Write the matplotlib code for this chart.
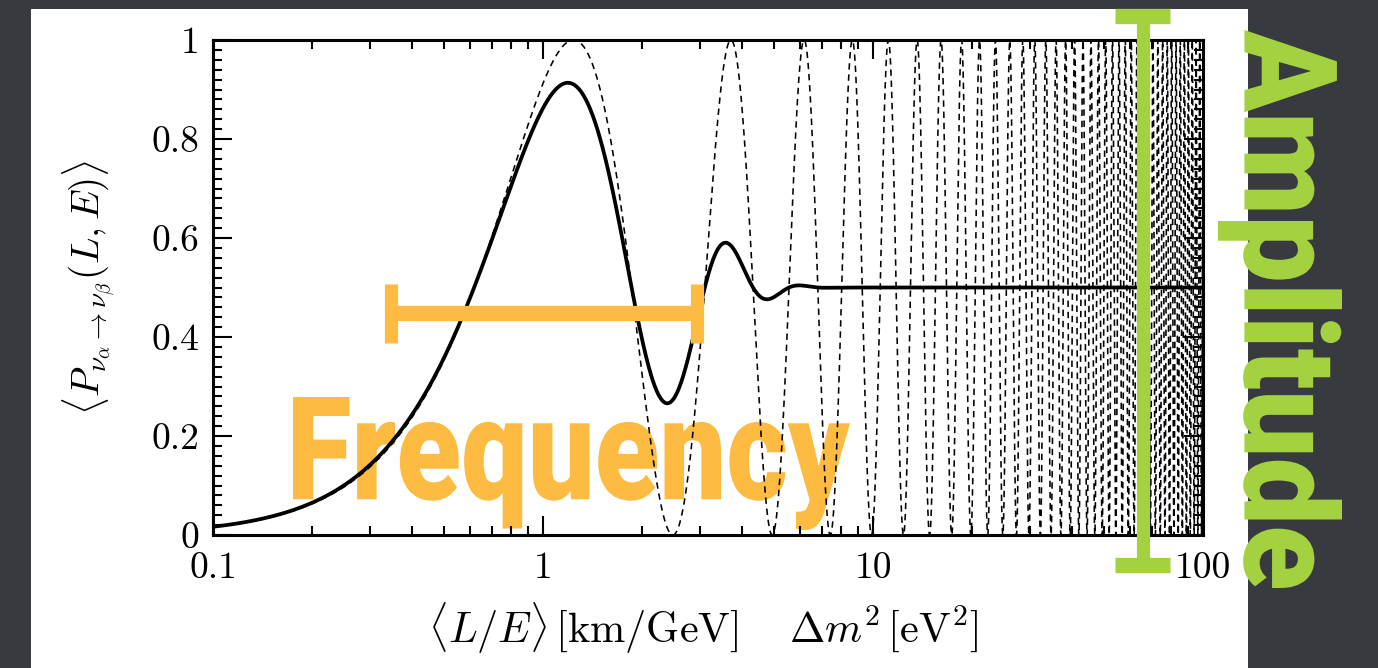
import numpy as np
import matplotlib

matplotlib.use("Agg")
import matplotlib.pyplot as plt  # noqa: E402
from matplotlib.font_manager import FontProperties  # noqa: E402
from matplotlib.patches import PathPatch, Rectangle  # noqa: E402
from matplotlib.textpath import TextPath  # noqa: E402
from matplotlib.transforms import Affine2D  # noqa: E402
from matplotlib.ticker import MultipleLocator, LogLocator, NullFormatter  # noqa: E402

# two-flavour oscillation:
# dashed maxima at L/E ~ 1.23, 3.7, 6.1, 8.7 ... -> dm2 = 1 eV^2, amplitude 1
DM2 = 1.0
OSC_COEF = 1.27
SIN2_2THETA = 1.0
# solid curve: same oscillation averaged over a ~20 % gaussian spread in L/E
L_OVER_E_SPREAD = 0.2

X_RANGE = (0.1, 100)
Y_RANGE = (0, 1)
XTICKS = [0.1, 1, 10, 100]
XTICK_LABELS = ["0.1", "1", "10", "100"]
YTICKS = [0, 0.2, 0.4, 0.6, 0.8, 1]
YTICK_LABELS = ["0", "0.2", "0.4", "0.6", "0.8", "1"]

XLABEL = r"$\langle L/E\rangle\,[\mathrm{km/GeV}]\quad\;\Delta m^2\,[\mathrm{eV}^2]$"
YLABEL = r"$\langle P_{\nu_\alpha\to\nu_\beta}(L,E)\rangle$"

ORANGE = "#fdbb42"
GREEN = "#a4d13f"
SLIDE_BG = "#373a3e"

W, H = 1378, 668

plt.rcParams["mathtext.fontset"] = "cm"


def text_patch(s, box, rotate=False, **kw):
    """Fit a heavy word into a pixel box (left, top, right, bottom)."""
    prop = FontProperties(family=["Roboto", "DejaVu Sans"], weight=900)
    tp = TextPath((0, 0), s, size=100, prop=prop)
    ext = tp.get_extents()
    x0, y0, x1, y1 = box
    if not rotate:
        sx = (x1 - x0) / ext.width
        sy = (y1 - y0) / ext.height
        tr = Affine2D().translate(-ext.x0, -ext.y1).scale(sx, -sy).translate(x0, y0)
    else:
        # reads top to bottom, letter tops facing right
        s_along = (y1 - y0) / ext.width
        s_perp = (x1 - x0) / ext.height
        tr = Affine2D.from_values(0, s_along, s_perp, 0,
                                  x0 - ext.y0 * s_perp, y0 - ext.x0 * s_along)
    return PathPatch(tr.transform_path(tp), lw=0, **kw)


x = np.logspace(np.log10(X_RANGE[0]), np.log10(X_RANGE[1]), 40000)
phase = OSC_COEF * DM2 * x
dashed = SIN2_2THETA * np.sin(phase) ** 2
solid = 0.5 * SIN2_2THETA * (1 - np.cos(2 * phase) * np.exp(-2 * (phase * L_OVER_E_SPREAD) ** 2))

fig = plt.figure(figsize=(W / 100, H / 100), dpi=100, facecolor=SLIDE_BG)
fig.add_artist(Rectangle((31 / W, 0), (1248 - 31) / W, (H - 9) / H, transform=fig.transFigure,
                         facecolor="white", edgecolor="none", zorder=-1))

ax = fig.add_axes([213 / W, 1 - 535 / H, 990 / W, 495 / H])
# overlay in image pixel coordinates for the slide annotations
ov = fig.add_axes([0, 0, 1, 1], zorder=5)
ov.set_xlim(0, W)
ov.set_ylim(H, 0)
ov.axis("off")
ov.patch.set_alpha(0)

ax.plot(x, dashed, color="black", lw=1.15, dashes=(4, 3), zorder=2)
ax.plot(x, solid, color="black", lw=2.7, zorder=3)

ax.set_xscale("log")
ax.set_xlim(*X_RANGE)
ax.set_ylim(*Y_RANGE)
ax.set_xticks(XTICKS, labels=XTICK_LABELS, fontfamily="cmr10", fontsize=27)
ax.set_yticks(YTICKS, labels=YTICK_LABELS, fontfamily="cmr10", fontsize=27)
ax.xaxis.set_minor_locator(LogLocator(base=10, subs=np.arange(2, 10)))
ax.xaxis.set_minor_formatter(NullFormatter())
ax.yaxis.set_minor_locator(MultipleLocator(0.02))
ax.tick_params(which="both", direction="in", top=True, right=True, width=1.5)
ax.tick_params(which="major", length=14)
ax.tick_params(which="minor", length=6.5)
ax.tick_params(axis="x", pad=12)
ax.tick_params(axis="y", pad=10)
for sp in ax.spines.values():
    sp.set_linewidth(2.2)

ax.set_xlabel(XLABEL, fontsize=30.5, va="center")
ax.xaxis.set_label_coords(0.495, -0.188)
ax.set_ylabel(YLABEL, fontsize=28, va="center")
ax.yaxis.set_label_coords(-0.125, 0.5)

# "Frequency" sits under the curves, its bar on top
freq = text_patch("Frequency", (293, 397, 850, 530), facecolor=ORANGE, zorder=1)
freq.set_transform(ov.transData)
freq.set_clip_on(False)
ax.add_patch(freq)

ov.plot([391, 697], [313, 313], color=ORANGE, lw=11, solid_capstyle="butt")
for cx in (391, 697):
    ov.plot([cx, cx], [284, 343], color=ORANGE, lw=9.5, solid_capstyle="butt")

ov.plot([1143, 1143], [16, 565], color=GREEN, lw=9.5, solid_capstyle="butt")
for cy in (16, 565):
    ov.plot([1115, 1170], [cy, cy], color=GREEN, lw=11, solid_capstyle="butt")

ov.add_patch(text_patch("Amplitude", (1218, 30, 1342, 588), rotate=True, facecolor=GREEN))

fig.savefig("out.png", dpi=100, facecolor=fig.get_facecolor())
